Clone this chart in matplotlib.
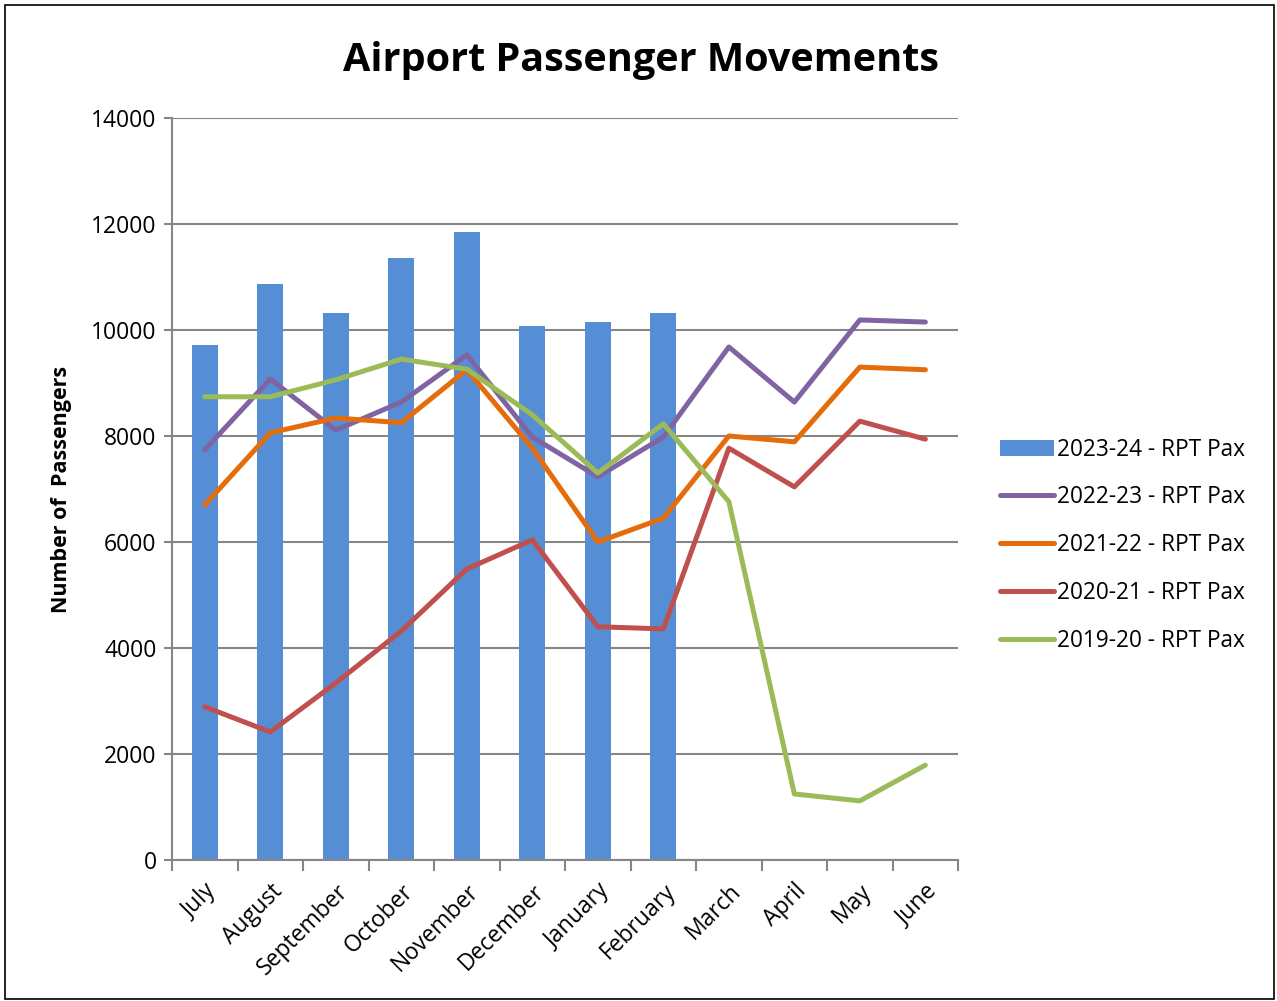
import numpy as np
import matplotlib as mpl
from matplotlib import pyplot as plt
from matplotlib.patches import Rectangle

mpl.rc('font', family=['Open Sans', 'DejaVu Sans'])

months = ['July', 'August', 'September', 'October', 'November', 'December',
          'January', 'February', 'March', 'April', 'May', 'June']

# 2023-24 season so far (bars)
pax_2023_24 = [9720, 10870, 10320, 11360, 11850, 10080, 10150, 10320]

pax_2022_23 = [7740, 9075, 8110, 8640, 9530, 7980, 7230, 7980, 9680, 8640, 10190, 10150]
pax_2021_22 = [6700, 8060, 8340, 8250, 9250, 7770, 6000, 6450, 8000, 7890, 9300, 9250]
pax_2020_21 = [2890, 2415, 3340, 4320, 5490, 6040, 4400, 4360, 7770, 7040, 8280, 7940]
pax_2019_20 = [8740, 8740, 9060, 9450, 9260, 8400, 7300, 8230, 6760, 1245, 1115, 1790]

grey = '#868686'

fig = plt.figure(figsize=(12.77, 10.01), dpi=100, facecolor='white')
ax = fig.add_axes([0.1347, 0.1409, 0.6156, 0.7412])

x = np.arange(len(months))
ax.bar(x[:len(pax_2023_24)], pax_2023_24, width=0.4, color='#558ED5',
       label='2023-24 - RPT Pax', zorder=2)

ax.plot(x, pax_2022_23, color='#8064A2', lw=3.6, solid_capstyle='round',
        label='2022-23 - RPT Pax', zorder=3)
ax.plot(x, pax_2021_22, color='#E46C0A', lw=3.6, solid_capstyle='round',
        label='2021-22 - RPT Pax', zorder=3)
ax.plot(x, pax_2020_21, color='#C0504D', lw=3.6, solid_capstyle='round',
        label='2020-21 - RPT Pax', zorder=3)
ax.plot(x, pax_2019_20, color='#9BBB59', lw=3.6, solid_capstyle='round',
        label='2019-20 - RPT Pax', zorder=3)

ax.set_xlim(-0.5, len(months) - 0.5)
ax.set_ylim(0, 14000)
ax.set_yticks(np.arange(0, 14001, 2000))
ax.tick_params(axis='y', labelsize=16.5, length=6, color=grey, width=1.5, pad=5)
ax.yaxis.grid(True, color=grey, lw=1.5, zorder=0)
ax.set_axisbelow(True)

# category ticks sit between the months
ax.set_xticks(np.arange(-0.5, len(months)), minor=False)
ax.set_xticklabels([])
ax.set_xticks(x, minor=True)
ax.set_xticklabels(months, minor=True, rotation=45, ha='right',
                   rotation_mode='anchor', fontsize=16.5)
ax.tick_params(axis='x', which='major', length=8, color=grey, width=1.5)
ax.tick_params(axis='x', which='minor', length=0, pad=14)

for s in ['top', 'right']:
    ax.spines[s].set_visible(False)
for s in ['left', 'bottom']:
    ax.spines[s].set_color(grey)
    ax.spines[s].set_linewidth(1.5)

ax.set_ylabel('Number of  Passengers', fontsize=15.5, fontweight='bold', labelpad=14)
fig.text(0.502, 0.940, 'Airport Passenger Movements', fontsize=28.5,
         fontweight='bold', ha='center', va='center')

handles, labels = ax.get_legend_handles_labels()
order = [4, 0, 1, 2, 3]
fig.legend([handles[i] for i in order], [labels[i] for i in order],
           loc='center left', bbox_to_anchor=(0.767, 0.4555),
           frameon=False, fontsize=16.3, handlelength=2.4, handletextpad=0.12,
           labelspacing=1.05)

fig.patches.append(Rectangle((0.004, 0.002), 0.994, 0.993, transform=fig.transFigure,
                             fill=False, edgecolor='black', lw=1.2))

fig.savefig('out.png', dpi=100, facecolor='white')
